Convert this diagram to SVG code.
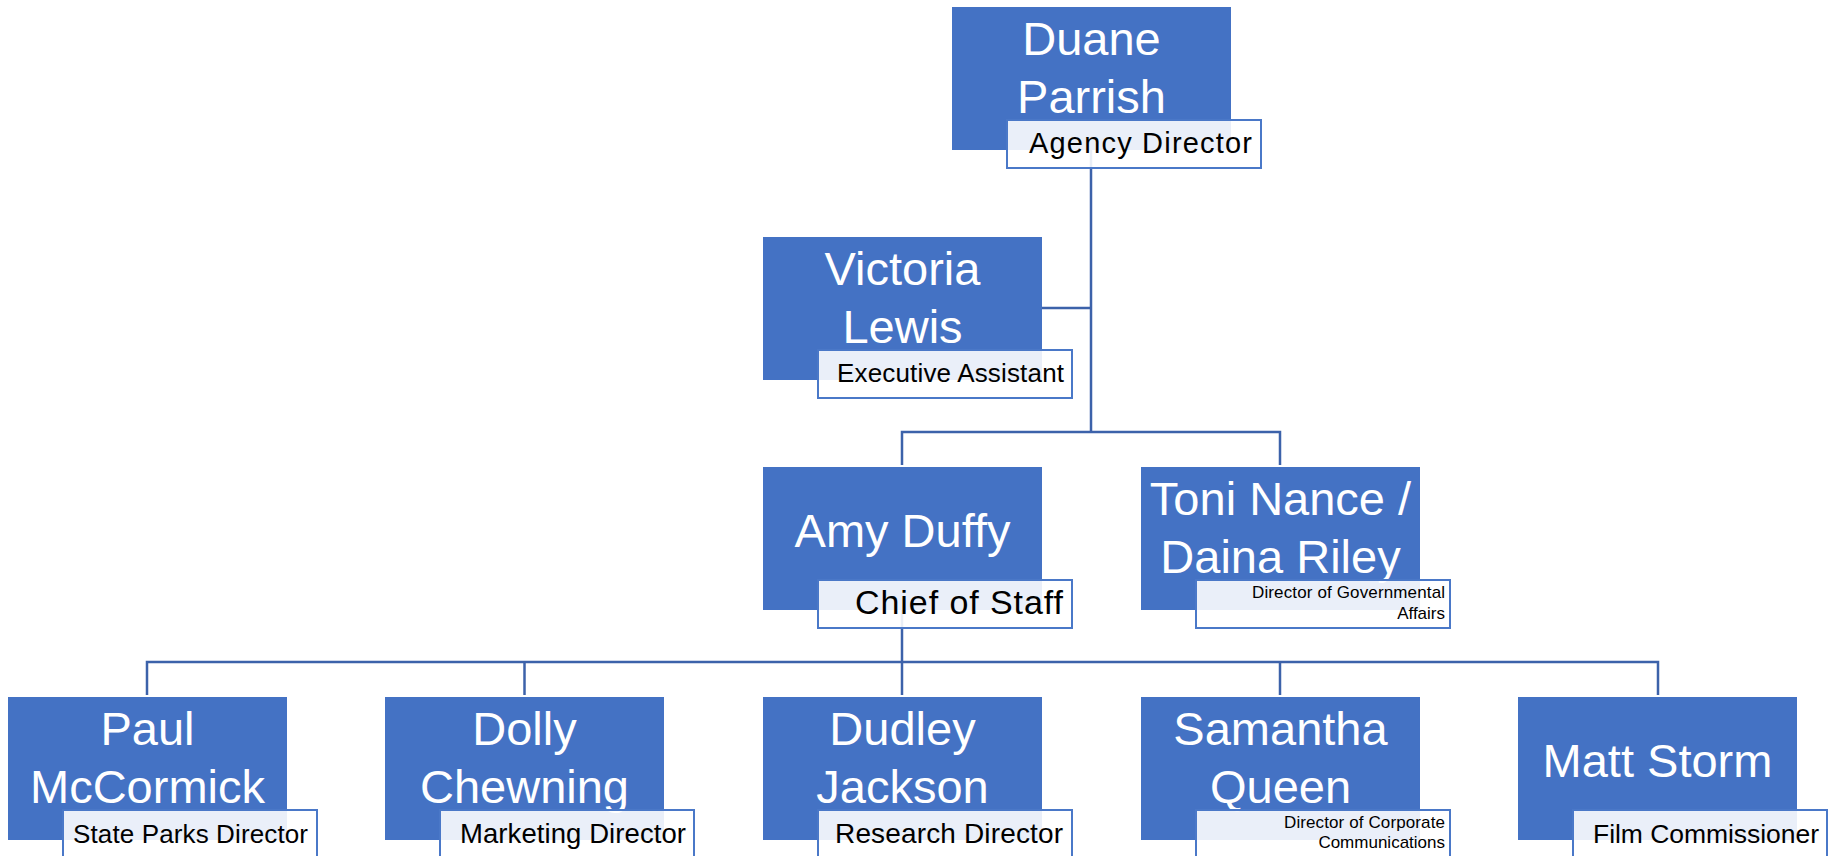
<svg xmlns="http://www.w3.org/2000/svg" width="1841" height="856" viewBox="0 0 1841 856">
<style>
.box{fill:#4472C4}
.lbl{fill:#FFFFFF;fill-opacity:0.89;stroke:#4A78C8;stroke-width:2}
.name{font-family:"Liberation Sans",Arial,sans-serif;font-size:47px;fill:#FFFFFF;text-anchor:middle}
.title{font-family:"Liberation Sans",Arial,sans-serif;fill:#000000;text-anchor:end}
.conn{fill:none;stroke:#3C62AA;stroke-width:2.5}
</style>
<rect width="1841" height="856" fill="#FFFFFF"/>
<g id="connectors">
<path class="conn" d="M1091,150 V432"/>
<path class="conn" d="M1042,308 H1091"/>
<path class="conn" d="M902,465 V432 H1280 V465"/>
<path class="conn" d="M902,610 V662"/>
<path class="conn" d="M147,695 V662 H1658 V695"/>
<path class="conn" d="M524.5,662 V695"/>
<path class="conn" d="M902,662 V695"/>
<path class="conn" d="M1280,662 V695"/>
</g>
<g id="duane-parrish">
<rect class="box" x="952" y="7" width="279" height="143"/>
<text class="name" x="1091.5" y="55">Duane</text>
<text class="name" x="1091.5" y="113">Parrish</text>
<rect class="lbl" x="1007" y="120" width="254" height="48"/>
<text class="title" x="1252" y="153" font-size="29" textLength="223">Agency Director</text>
</g>
<g id="victoria-lewis">
<rect class="box" x="763" y="237" width="279" height="143"/>
<text class="name" x="902.5" y="285">Victoria</text>
<text class="name" x="902.5" y="343">Lewis</text>
<rect class="lbl" x="818" y="350" width="254" height="48"/>
<text class="title" x="1064" y="382" font-size="26" textLength="227">Executive Assistant</text>
</g>
<g id="amy-duffy">
<rect class="box" x="763" y="467" width="279" height="143"/>
<text class="name" x="902.5" y="547">Amy Duffy</text>
<rect class="lbl" x="818" y="580" width="254" height="48"/>
<text class="title" x="1063" y="614" font-size="34" textLength="208">Chief of Staff</text>
</g>
<g id="toni-nance-daina-riley">
<rect class="box" x="1141" y="467" width="279" height="143"/>
<text class="name" x="1280.5" y="515">Toni Nance /</text>
<text class="name" x="1280.5" y="573">Daina Riley</text>
<rect class="lbl" x="1196" y="580" width="254" height="48"/>
<text class="title" x="1445" y="598" font-size="17" textLength="193">Director of Governmental</text>
<text class="title" x="1445" y="619" font-size="17">Affairs</text>
</g>
<g id="paul-mccormick">
<rect class="box" x="8" y="697" width="279" height="143"/>
<text class="name" x="147.5" y="745">Paul</text>
<text class="name" x="147.5" y="803">McCormick</text>
<rect class="lbl" x="63" y="810" width="254" height="48"/>
<text class="title" x="308" y="843" font-size="26" textLength="235">State Parks Director</text>
</g>
<g id="dolly-chewning">
<rect class="box" x="385" y="697" width="279" height="143"/>
<text class="name" x="524.5" y="745">Dolly</text>
<text class="name" x="524.5" y="803">Chewning</text>
<rect class="lbl" x="440" y="810" width="254" height="48"/>
<text class="title" x="686" y="843" font-size="27.5" textLength="226">Marketing Director</text>
</g>
<g id="dudley-jackson">
<rect class="box" x="763" y="697" width="279" height="143"/>
<text class="name" x="902.5" y="745">Dudley</text>
<text class="name" x="902.5" y="803">Jackson</text>
<rect class="lbl" x="818" y="810" width="254" height="48"/>
<text class="title" x="1063" y="843" font-size="28" textLength="228">Research Director</text>
</g>
<g id="samantha-queen">
<rect class="box" x="1141" y="697" width="279" height="143"/>
<text class="name" x="1280.5" y="745">Samantha</text>
<text class="name" x="1280.5" y="803">Queen</text>
<rect class="lbl" x="1196" y="810" width="254" height="48"/>
<text class="title" x="1445" y="828" font-size="17" textLength="161">Director of Corporate</text>
<text class="title" x="1445" y="848" font-size="17">Communications</text>
</g>
<g id="matt-storm">
<rect class="box" x="1518" y="697" width="279" height="143"/>
<text class="name" x="1657.5" y="777">Matt Storm</text>
<rect class="lbl" x="1573" y="810" width="254" height="48"/>
<text class="title" x="1819" y="843" font-size="26.5" textLength="226">Film Commissioner</text>
</g>
</svg>
